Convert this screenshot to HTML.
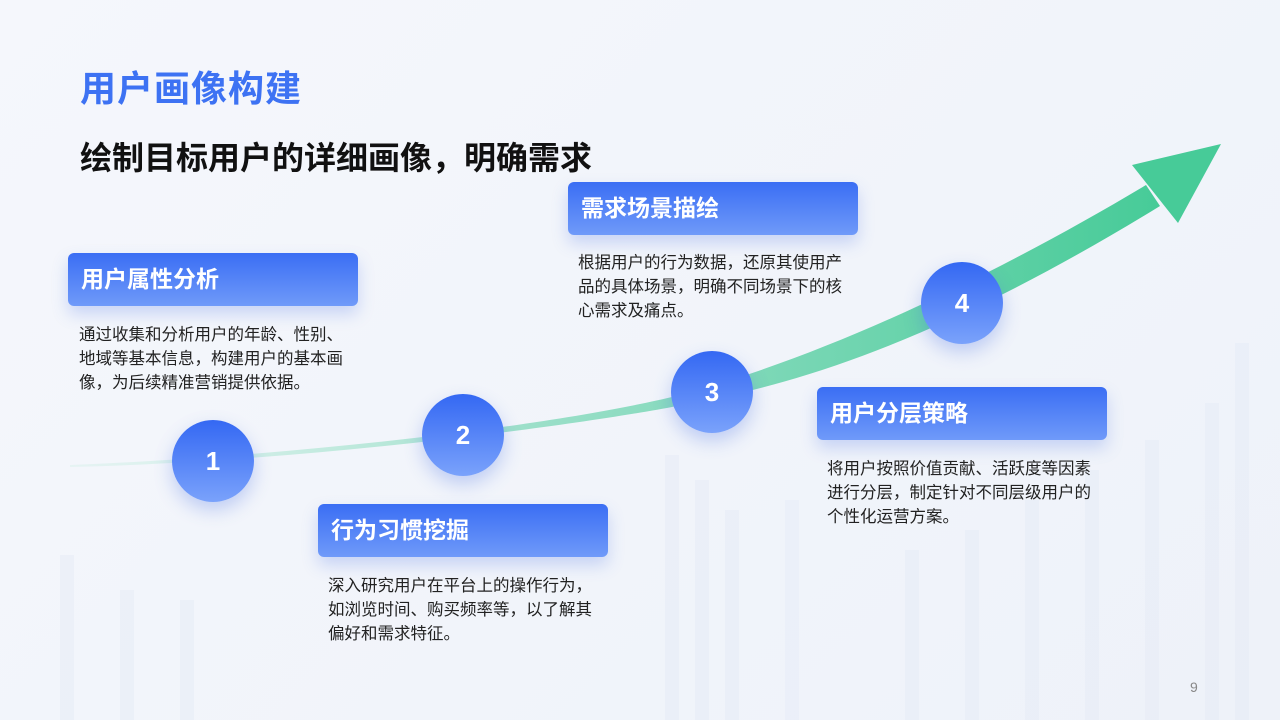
<!DOCTYPE html>
<html><head><meta charset="utf-8"><style>
body{margin:0;width:1280px;height:720px;overflow:hidden;background:linear-gradient(135deg,#f5f7fc,#eef2f9);font-family:"Liberation Sans","Noto Sans CJK SC",sans-serif;position:relative}
.t{position:absolute;left:80px;top:60px;font-size:36px;font-weight:bold;color:#3d72f3;letter-spacing:1px}
.s{position:absolute;left:80px;top:133px;font-size:32px;font-weight:bold;color:#111}
.box{position:absolute;width:290px;height:53px;border-radius:6px;background:linear-gradient(180deg,#3a6ef4,#6f9af9);box-shadow:0 8px 16px rgba(70,110,230,.25);color:#fff;font-size:23px;font-weight:bold;line-height:53px;box-sizing:border-box;padding-left:13px}
.d{position:absolute;width:270px;font-size:16.5px;line-height:24px;color:#222}
.c{position:absolute;width:82px;height:82px;border-radius:50%;background:linear-gradient(180deg,#3468f3,#7aa2fb);color:#fff;font-size:26px;font-weight:bold;text-align:center;line-height:82px;box-shadow:0 8px 18px rgba(70,110,230,.3)}
.pn{position:absolute;left:1190px;top:679px;font-size:14px;color:#888}
</style></head><body>
<svg width="1280" height="720" style="position:absolute;left:0;top:0">
<defs><linearGradient id="g" x1="0" y1="0" x2="1" y2="0"><stop offset="0" stop-color="#c6eee0" stop-opacity=".3"/><stop offset=".4" stop-color="#9fe0cb"/><stop offset="1" stop-color="#47cb98"/></linearGradient></defs>
<g fill="#e6ecf7" opacity=".5">
<rect x="1235" y="343" width="14" height="377"/><rect x="1205" y="403" width="14" height="317"/><rect x="1145" y="440" width="14" height="280"/><rect x="1085" y="470" width="14" height="250"/><rect x="1025" y="500" width="14" height="220"/><rect x="965" y="530" width="14" height="190"/><rect x="905" y="550" width="14" height="170"/><rect x="665" y="455" width="14" height="265"/><rect x="695" y="480" width="14" height="240"/><rect x="725" y="510" width="14" height="210"/><rect x="785" y="500" width="14" height="220"/><rect x="60" y="555" width="14" height="165"/><rect x="120" y="590" width="14" height="130"/><rect x="180" y="600" width="14" height="120"/></g>
<path d="M70,465 C300,456 600,422 712,386 C850,344 1000,272 1146,185 L1160,206 C1010,298 860,370 712,399 C600,424 300,462 70,467 Z" fill="url(#g)"/>
<polygon points="1221,144 1132,165 1178,223" fill="#47cb98"/>
</svg>
<div class="t">用户画像构建</div>
<div class="s">绘制目标用户的详细画像，明确需求</div>
<div class="box" style="left:68px;top:253px">用户属性分析</div>
<div class="d" style="left:79px;top:323px">通过收集和分析用户的年龄、性别、地域等基本信息，构建用户的基本画像，为后续精准营销提供依据。</div>
<div class="box" style="left:318px;top:504px">行为习惯挖掘</div>
<div class="d" style="left:328px;top:574px">深入研究用户在平台上的操作行为，如浏览时间、购买频率等，以了解其偏好和需求特征。</div>
<div class="box" style="left:568px;top:182px">需求场景描绘</div>
<div class="d" style="left:578px;top:251px">根据用户的行为数据，还原其使用产品的具体场景，明确不同场景下的核心需求及痛点。</div>
<div class="box" style="left:817px;top:387px">用户分层策略</div>
<div class="d" style="left:827px;top:457px">将用户按照价值贡献、活跃度等因素进行分层，制定针对不同层级用户的个性化运营方案。</div>
<div class="c" style="left:172px;top:420px">1</div>
<div class="c" style="left:422px;top:394px">2</div>
<div class="c" style="left:671px;top:351px">3</div>
<div class="c" style="left:921px;top:262px">4</div>
<div class="pn">9</div>
</body></html>
